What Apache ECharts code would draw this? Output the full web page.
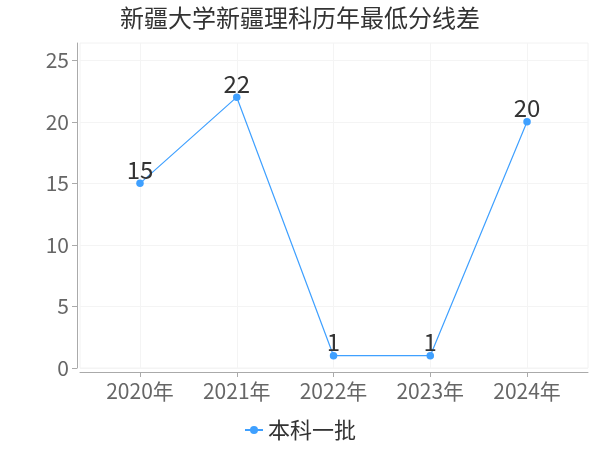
<!DOCTYPE html>
<html>
<head>
<meta charset="utf-8">
<script src="https://cdn.jsdelivr.net/npm/echarts@6/dist/echarts.min.js"></script>
<style>
  html, body { margin: 0; padding: 0; background: #fff; }
  #chart { width: 600px; height: 450px; }
</style>
</head>
<body>
<div id="chart"></div>
<script>
  const titleText = '新疆大学新疆理科历年最低分线差';
  const categories = ['2020年', '2021年', '2022年', '2023年', '2024年'];
  const seriesName = '本科一批';
  const values = [15, 22, 1, 1, 20];

  const font = "'Noto Sans CJK SC', 'Noto Sans', sans-serif";
  const lineColor = '#3fa0ff';

  // x is a value axis on the category index so the plot keeps its wide side padding
  const points = values.map((v, i) => [i, v]);

  const chart = echarts.init(document.getElementById('chart'));
  chart.setOption({
    animation: false,
    textStyle: { fontFamily: font },
    title: {
      text: titleText,
      left: 'center',
      top: 1,
      textStyle: { fontSize: 24, fontWeight: 'normal', color: '#333', fontFamily: font }
    },
    legend: {
      bottom: 4,
      left: 'center',
      itemWidth: 18,
      itemHeight: 10,
      itemGap: 10,
      textStyle: { fontSize: 22, color: '#333', fontFamily: font },
      data: [seriesName]
    },
    grid: {
      left: 80, right: 12, top: 43, bottom: 82,
      show: true, borderColor: '#f2f2f2', borderWidth: 1
    },
    xAxis: {
      type: 'value',
      min: -0.62,
      max: 4.63,
      interval: 1,
      offset: 4,
      axisLine: { onZero: false, lineStyle: { color: '#aaa' } },
      axisTick: { show: true, length: 5, lineStyle: { color: '#aaa' }, customValues: [0, 1, 2, 3, 4] },
      axisLabel: {
        fontSize: 21, color: '#666', margin: 9, fontFamily: font,
        customValues: [0, 1, 2, 3, 4],
        formatter: v => categories[Math.round(v)] || ''
      },
      splitLine: { show: true, lineStyle: { color: '#f4f4f4' } }
    },
    yAxis: {
      type: 'value',
      min: 0,
      max: 26.4,
      interval: 5,
      offset: 3,
      axisLine: { show: true, onZero: false, lineStyle: { color: '#aaa' } },
      axisTick: { show: true, length: 5, lineStyle: { color: '#aaa' }, customValues: [0, 5, 10, 15, 20, 25] },
      axisLabel: {
        fontSize: 21, color: '#666', margin: 8, fontFamily: font,
        customValues: [0, 5, 10, 15, 20, 25]
      },
      splitLine: { show: true, lineStyle: { color: '#f4f4f4' } }
    },
    series: [{
      name: seriesName,
      type: 'line',
      data: points,
      symbol: 'circle',
      symbolSize: 7.5,
      itemStyle: { color: lineColor },
      lineStyle: { color: lineColor, width: 1.2 },
      label: {
        show: true,
        position: 'top',
        distance: -2,
        fontSize: 24,
        color: '#333',
        fontFamily: font,
        formatter: p => p.value[1]
      }
    }]
  });
</script>
</body>
</html>
